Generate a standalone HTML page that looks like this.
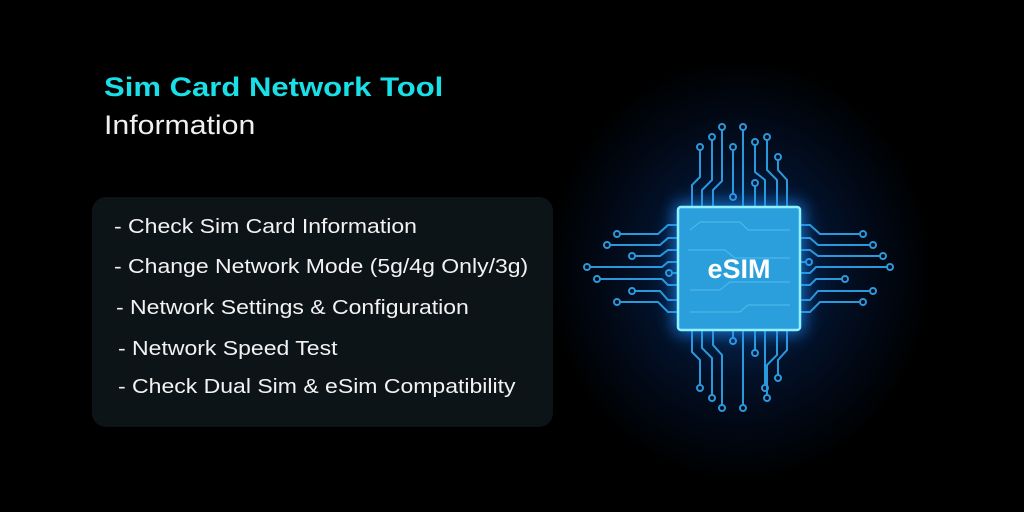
<!DOCTYPE html>
<html><head><style>
body{margin:0;width:1024px;height:512px;background:#000;overflow:hidden;position:relative;font-family:"Liberation Sans",sans-serif}
.t1{position:absolute;left:104px;top:72px;color:#19dfe6;font-weight:bold;font-size:27px;transform:scaleX(1.15);transform-origin:left}
.t2{position:absolute;left:104px;top:110px;color:#f0f0f0;font-size:27px;transform:scaleX(1.12);transform-origin:left}
.box{position:absolute;left:92px;top:197px;width:461px;height:230px;background:#0c1417;border-radius:14px}
.li{position:absolute;color:#f2f2f2;font-size:20px;transform:scaleX(1.15);transform-origin:left;white-space:nowrap}
</style></head><body>
<div style="position:absolute;left:540px;top:50px;width:400px;height:440px;background:radial-gradient(ellipse at center,rgba(10,70,150,0.8) 0%,rgba(5,35,85,0.45) 35%,rgba(0,0,0,0) 68%)"></div>
<div class="t1">Sim Card Network Tool</div>
<div class="t2">Information</div>
<div class="box"></div>
<div class="li" style="left:114px;top:216px">- Check Sim Card Information</div>
<div class="li" style="left:114px;top:256px">- Change Network Mode (5g/4g Only/3g)</div>
<div class="li" style="left:116px;top:297px">- Network Settings &amp; Configuration</div>
<div class="li" style="left:118px;top:338px">- Network Speed Test</div>
<div class="li" style="left:118px;top:376px">- Check Dual Sim &amp; eSim Compatibility</div>
<svg style="position:absolute;left:0;top:0" width="1024" height="512">
<defs><filter id="b" x="-50%" y="-50%" width="200%" height="200%"><feGaussianBlur stdDeviation="8"/></filter></defs>
<g stroke="#2fa8f0" stroke-width="2" fill="none" opacity="0.9">
<path d="M692 207 V185 L700 177 V150"/><circle cx="700" cy="147" r="3"/>
<path d="M702 207 V190 L712 180 V140"/><circle cx="712" cy="137" r="3"/>
<path d="M713 207 V190 L722 181 V130"/><circle cx="722" cy="127" r="3"/>
<circle cx="733" cy="197" r="3"/>
<path d="M733 194 V150"/><circle cx="733" cy="147" r="3"/>
<path d="M743 207 V130"/><circle cx="743" cy="127" r="3"/>
<path d="M755 207 V186"/><circle cx="755" cy="183" r="3"/>
<path d="M765 207 V180 L755 172 V145"/><circle cx="755" cy="142" r="3"/>
<path d="M777 207 V180 L767 170 V140"/><circle cx="767" cy="137" r="3"/>
<path d="M787 207 V180 L778 170 V160"/><circle cx="778" cy="157" r="3"/>
<path d="M692 330 V352 L700 360 V385"/><circle cx="700" cy="388" r="3"/>
<path d="M702 330 V348 L712 358 V395"/><circle cx="712" cy="398" r="3"/>
<path d="M713 330 V345 L722 355 V405"/><circle cx="722" cy="408" r="3"/>
<path d="M733 330 V338"/><circle cx="733" cy="341" r="3"/>
<path d="M743 330 V405"/><circle cx="743" cy="408" r="3"/>
<path d="M755 330 V350"/><circle cx="755" cy="353" r="3"/>
<path d="M765 330 V385"/><circle cx="765" cy="388" r="3"/>
<path d="M777 330 V355 L767 365 V395"/><circle cx="767" cy="398" r="3"/>
<path d="M787 330 V350 L778 360 V375"/><circle cx="778" cy="378" r="3"/>
<path d="M678 225 H668 L658 234 H620"/><circle cx="617" cy="234" r="3"/>
<path d="M678 238 H668 L660 245 H610"/><circle cx="607" cy="245" r="3"/>
<path d="M678 250 H668 L660 256 H635"/><circle cx="632" cy="256" r="3"/>
<path d="M678 262 H668 L662 267 H590"/><circle cx="587" cy="267" r="3"/>
<path d="M678 273 H672"/><circle cx="669" cy="273" r="3"/>
<path d="M678 285 H668 L662 279 H600"/><circle cx="597" cy="279" r="3"/>
<path d="M678 300 H668 L660 291 H635"/><circle cx="632" cy="291" r="3"/>
<path d="M678 312 H668 L658 302 H620"/><circle cx="617" cy="302" r="3"/>
<path d="M800 225 H810 L820 234 H860"/><circle cx="863" cy="234" r="3"/>
<path d="M800 238 H810 L818 245 H870"/><circle cx="873" cy="245" r="3"/>
<path d="M800 250 H810 L818 256 H880"/><circle cx="883" cy="256" r="3"/>
<path d="M800 262 H806"/><circle cx="809" cy="262" r="3"/>
<path d="M800 273 H810 L816 267 H887"/><circle cx="890" cy="267" r="3"/>
<path d="M800 285 H810 L816 279 H842"/><circle cx="845" cy="279" r="3"/>
<path d="M800 300 H810 L818 291 H870"/><circle cx="873" cy="291" r="3"/>
<path d="M800 312 H810 L820 302 H860"/><circle cx="863" cy="302" r="3"/>
</g>
<rect x="674" y="203" width="130" height="131" rx="6" fill="#1e90ff" opacity="0.7" filter="url(#b)"/>
<rect x="678" y="207" width="122" height="123" rx="3" fill="#2a9fdc" stroke="#8ff0ff" stroke-width="2.5"/>
<g stroke="#5cc4f0" stroke-width="1" fill="none" opacity="0.8">
<path d="M690 230 L700 222 H740 L748 230 H790"/><path d="M688 250 H725 L735 258 H790"/><path d="M690 290 H720 L730 282 H790"/><path d="M690 312 H740 L748 305 H790"/>
</g>
<text x="739" y="278" text-anchor="middle" fill="#fff" font-family="Liberation Sans" font-weight="bold" font-size="27">eSIM</text>
</svg>
</body></html>
